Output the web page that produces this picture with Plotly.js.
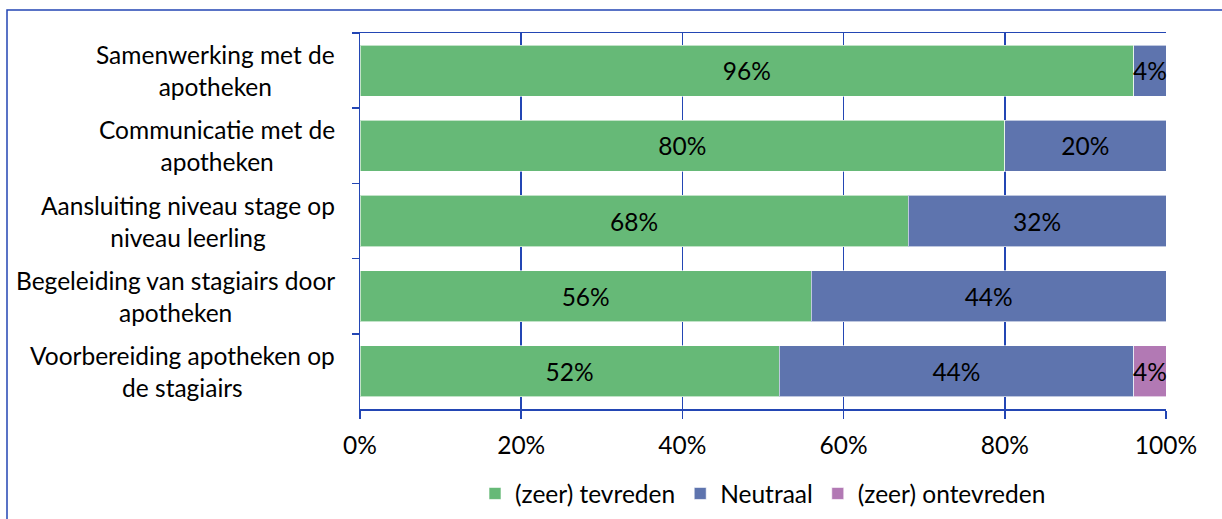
<!DOCTYPE html>
<html>
<head>
<meta charset="utf-8">
<script src="https://cdn.plot.ly/plotly-3.0.1.min.js"></script>
<style>html,body{margin:0;padding:0;background:#fff;}#chart{width:1222px;height:519px;}</style>
</head>
<body>
<div id="chart"></div>
<script>
var categories = [
  "Samenwerking met de<br>apotheken",
  "Communicatie met de<br>apotheken",
  "Aansluiting niveau stage op<br>niveau leerling",
  "Begeleiding van stagiairs door<br>apotheken",
  "Voorbereiding apotheken op<br>de stagiairs"
];
var seriesNames = ["(zeer) tevreden", "Neutraal", "(zeer) ontevreden"];
var tevreden = [96, 80, 68, 56, 52];
var neutraal = [4, 20, 32, 44, 44];
var ontevreden = [0, 0, 0, 0, 4];
var xTickVals = [0, 20, 40, 60, 80, 100];
var xTickText = ["0%", "20%", "40%", "60%", "80%", "100%"];

var colors = ["#66b977", "#5e74ae", "#b279b4"];
var font = "Lato, 'Open Sans', sans-serif";
var blue = "#2346b4";
var fs = 24.5;
var ids = categories.map(function(c, i){ return "c" + i; });

function mk(vals, name, color){
  return {
    type: "bar", orientation: "h", name: name,
    x: vals, y: ids,
    text: vals.map(function(v){ return v > 0 ? v + "%" : ""; }),
    textposition: "inside", insidetextanchor: "middle", textangle: 0,
    constraintext: "none",
    textfont: {family: font, size: fs, color: "#000"},
    marker: {color: color, line: {color: "rgba(255,255,255,0.6)", width: 1}},
    hoverinfo: "skip", cliponaxis: false
  };
}
var data = [mk(tevreden, seriesNames[0], colors[0]), mk(neutraal, seriesNames[1], colors[1]), mk(ontevreden, seriesNames[2], colors[2])];

var annotations = categories.map(function(c, i){
  return {xref: "paper", yref: "y", x: (337 - 360) / 806, y: ids[i], xanchor: "right", yanchor: "middle",
          text: c, align: "center", showarrow: false, font: {family: font, size: fs, color: "#000"}};
});

var layout = {
  width: 1222, height: 519,
  margin: {l: 360, r: 56, t: 33, b: 110, autoexpand: false},
  barmode: "stack", bargap: 0.32,
  paper_bgcolor: "#fff", plot_bgcolor: "#fff",
  font: {family: font, size: fs, color: "#000"},
  showlegend: true,
  legend: {orientation: "h", x: 0.5, xanchor: "center", y: -0.165, yanchor: "top",
           font: {family: font, size: fs, color: "#000"}, itemwidth: 30, traceorder: "normal"},
  xaxis: {range: [0, 100], tickvals: xTickVals, ticktext: xTickText, showgrid: true, automargin: false,
          gridcolor: blue, gridwidth: 1.5, zeroline: false, showline: true, linecolor: blue, linewidth: 1.5,
          mirror: true, ticks: "outside", ticklen: 8, tickwidth: 1.5, tickcolor: blue, ticklabelstandoff: 6,
          tickfont: {family: font, size: fs, color: "#000"}, fixedrange: true},
  yaxis: {categoryorder: "array", categoryarray: ids, autorange: "reversed", showticklabels: false, automargin: false,
          ticks: "outside", tickson: "boundaries", ticklen: 7, tickwidth: 1.5, tickcolor: blue,
          showline: true, linecolor: blue, linewidth: 1.5, showgrid: false, zeroline: false, fixedrange: true},
  annotations: annotations,
  shapes: [{type: "rect", xref: "paper", yref: "paper", x0: (7 - 360) / 806, x1: 2, y0: -1, y1: (409 - 10) / 376,
            line: {color: blue, width: 1.5}, fillcolor: "rgba(0,0,0,0)", layer: "above"}]
};
Plotly.newPlot("chart", data, layout, {displayModeBar: false, staticPlot: true});
</script>
</body>
</html>
